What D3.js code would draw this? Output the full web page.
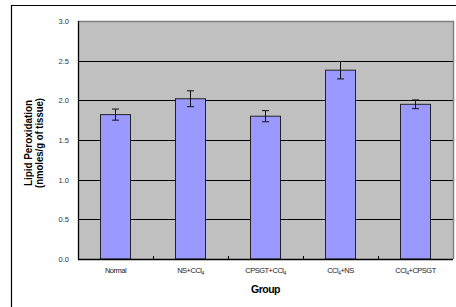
<!DOCTYPE html>
<html>
<head>
<meta charset="utf-8">
<script src="https://cdn.jsdelivr.net/npm/d3@7"></script>
<style>
body { margin: 0; background: #fff; }
svg { display: block; }
text { font-family: "Liberation Sans", Arial, sans-serif; }
</style>
</head>
<body>
<div class="chart"></div>
<script>
// data
var groups = ["Normal", "NS+CCl4", "CPSGT+CCl4", "CCl4+NS", "CCl4+CPSGT"]
var means = [1.82, 2.02, 1.80, 2.38, 1.95]
var errs = [0.07, 0.10, 0.07, 0.11, 0.055]
var yTicks = [0, 0.5, 1.0, 1.5, 2.0, 2.5, 3.0]

var W = 456, H = 307
var pLeft = 78, pRight = 453, pTop = 21, pBottom = 259

var svg = d3.select(".chart").append("svg").attr("width", W).attr("height", H)

// outer frame (runs off the picture at right and bottom)
svg.append("path").attr("d", "M11.5," + (H + 2) + "V5.5H" + (W + 2))
    .attr("fill", "none").attr("stroke", "#000").attr("stroke-width", 1.2)

var x = d3.scaleBand().domain(groups).range([pLeft, pRight]).paddingInner(0.6).paddingOuter(0.3)
var y = d3.scaleLinear().domain([0, 3]).range([pBottom, pTop])

// plot background
svg.append("rect").attr("x", pLeft).attr("y", pTop).attr("width", pRight - pLeft).attr("height", pBottom - pTop)
    .attr("fill", "#c0c0c0")

// gridlines
svg.selectAll("line.grid").data(yTicks.slice(1, -1)).enter().append("line").attr("class", "grid")
    .attr("x1", pLeft).attr("x2", pRight)
    .attr("y1", function(d){ return Math.round(y(d)) + 0.5 })
    .attr("y2", function(d){ return Math.round(y(d)) + 0.5 })
    .attr("stroke", "#000").attr("stroke-width", 1)

// plot border top / right in gray
svg.append("path").attr("d", "M" + pLeft + "," + (pTop + 0.5) + "H" + (pRight + 0.5) + "V" + pBottom)
    .attr("fill", "none").attr("stroke", "#808080").attr("stroke-width", 1.5)

// bars
svg.selectAll("rect.bar").data(means).enter().append("rect").attr("class", "bar")
    .attr("x", function(d, i){ return x(groups[i]) })
    .attr("y", function(d){ return y(d) })
    .attr("width", x.bandwidth())
    .attr("height", function(d){ return pBottom - y(d) })
    .attr("fill", "#9999ff").attr("stroke", "#222").attr("stroke-width", 1)

// error bars
var eb = svg.selectAll("g.err").data(means).enter().append("g").attr("class", "err")
    .attr("stroke", "#111").attr("stroke-width", 1)
eb.append("line")
    .attr("x1", function(d, i){ return x(groups[i]) + x.bandwidth() / 2 })
    .attr("x2", function(d, i){ return x(groups[i]) + x.bandwidth() / 2 })
    .attr("y1", function(d, i){ return y(d + errs[i]) })
    .attr("y2", function(d, i){ return y(d - errs[i]) })
eb.append("line")
    .attr("x1", function(d, i){ return x(groups[i]) + x.bandwidth() / 2 - 3.5 })
    .attr("x2", function(d, i){ return x(groups[i]) + x.bandwidth() / 2 + 3.5 })
    .attr("y1", function(d, i){ return y(d + errs[i]) })
    .attr("y2", function(d, i){ return y(d + errs[i]) })
eb.append("line")
    .attr("x1", function(d, i){ return x(groups[i]) + x.bandwidth() / 2 - 3.5 })
    .attr("x2", function(d, i){ return x(groups[i]) + x.bandwidth() / 2 + 3.5 })
    .attr("y1", function(d, i){ return y(d - errs[i]) })
    .attr("y2", function(d, i){ return y(d - errs[i]) })

// axes lines
svg.append("line").attr("x1", pLeft + 0.5).attr("x2", pLeft + 0.5).attr("y1", pTop).attr("y2", pBottom + 1)
    .attr("stroke", "#000").attr("stroke-width", 1.3)
svg.append("line").attr("x1", pLeft).attr("x2", pRight).attr("y1", pBottom + 0.5).attr("y2", pBottom + 0.5)
    .attr("stroke", "#000").attr("stroke-width", 1.3)

// x ticks at category boundaries, pointing up
var step = x.step()
svg.selectAll("line.xt").data(groups.slice(1)).enter().append("line").attr("class", "xt")
    .attr("x1", function(d){ return Math.round(x(d) - (step - x.bandwidth()) / 2) + 0.5 })
    .attr("x2", function(d){ return Math.round(x(d) - (step - x.bandwidth()) / 2) + 0.5 })
    .attr("y1", pBottom).attr("y2", pBottom - 3)
    .attr("stroke", "#000")

// y tick labels
svg.selectAll("text.yl").data(yTicks).enter().append("text").attr("class", "yl")
    .attr("x", 69).attr("y", function(d){ return y(d) + 3 })
    .attr("text-anchor", "end").attr("font-size", "7.5px").attr("fill", "#333")
    .text(function(d){ return d.toFixed(1) })

// x labels with CCl4 subscripts
var xl = svg.selectAll("text.xl").data(groups).enter().append("text").attr("class", "xl")
    .attr("x", function(d){ return x(d) + x.bandwidth() / 2 })
    .attr("y", 273).attr("text-anchor", "middle").attr("font-size", "7.5px").attr("fill", "#222")
    .style("letter-spacing", "-0.5px")
xl.each(function(d){
    var t = d3.select(this)
    var parts = d.split("CCl4")
    var shift = 0
    parts.forEach(function(p, k){
        if (k > 0) {
            t.append("tspan").attr("dy", -shift).text("CCl")
            t.append("tspan").attr("font-size", "5px").attr("dy", 1.5).text("4")
            shift = 1.5
        }
        if (p) { t.append("tspan").attr("dy", -shift).text(p); shift = 0 }
    })
})

// axis titles
svg.append("text").attr("x", (pLeft + pRight) / 2).attr("y", 293).attr("text-anchor", "middle")
    .attr("font-size", "10.5px").attr("font-weight", "bold").style("letter-spacing", "-0.5px").text("Group")

var yt = svg.append("text").attr("transform", "translate(32,143) rotate(-90)")
    .attr("text-anchor", "middle").attr("font-size", "10px").attr("font-weight", "bold")
yt.append("tspan").attr("x", 0).attr("dy", 0)
    .attr("textLength", 86).attr("lengthAdjust", "spacingAndGlyphs").text("Lipid Peroxidation")
yt.append("tspan").attr("x", 0).attr("dy", 10.5)
    .attr("textLength", 90).attr("lengthAdjust", "spacingAndGlyphs").text("(nmoles/g of tissue)")
</script>
</body>
</html>
